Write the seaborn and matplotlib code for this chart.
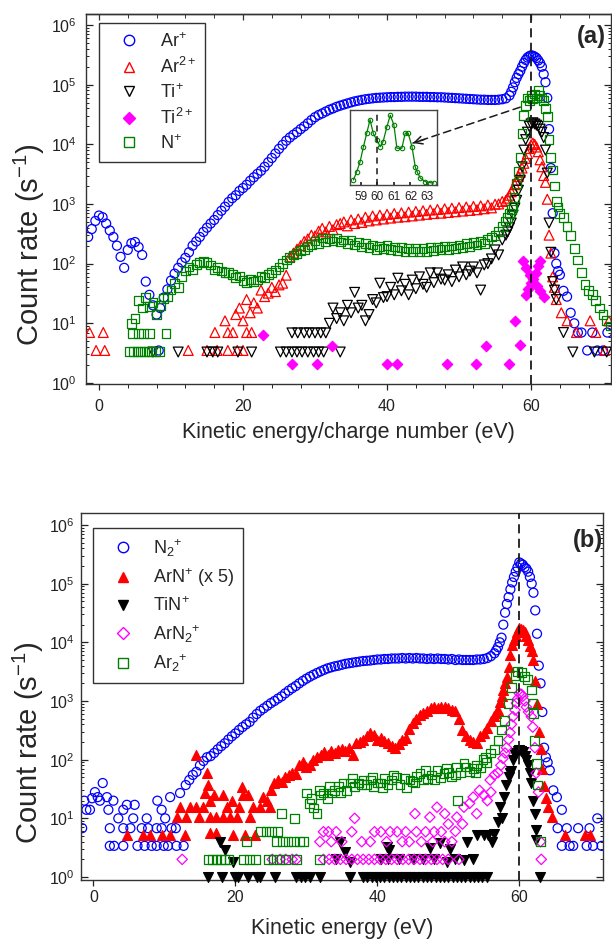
import numpy as np
import pandas as pd
import matplotlib
matplotlib.use("Agg")
import matplotlib.pyplot as plt
import seaborn as sns
from matplotlib.lines import Line2D
from matplotlib.ticker import MultipleLocator, LogLocator, NullFormatter, NullLocator

# ------------------------------------------------------------------ data
# Panel (a) -- energies in eV, count rates in s^-1
# Ar+ : dense segments (start, step, values)
ar1_main_start, ar1_main_step = -1.5, 0.5
ar1_main = [280, 380, 520, 640, 600, 470, 360, 280, 200, 130,
            85, 170, 220, 230, 190, 140, 50, 30, 20, 14,
            18, 27, 37, 52, 68, 85, 105, 125, 155, 200,
            235, 280, 340, 400, 470, 540, 650, 770, 900, 1080,
            1250, 1400, 1650, 1850, 2100, 2450, 2800, 3200, 3600, 4200,
            5000, 5900, 7000, 8400, 9800, 11500, 13000, 14500, 16000, 18000,
            20000, 22500, 25500, 28500, 31000, 33000, 35500, 38000, 40000, 42500,
            44500, 46500, 48500, 50500, 52500, 54000, 55500, 57000, 58000, 59000,
            60000, 60500, 61000, 61500, 62000, 62000, 62500, 62500, 63000, 63000,
            63000, 63000, 62500, 62500, 62500, 62000, 62000, 61500, 61500, 61000,
            60500, 60000, 59500, 59000, 58500, 58000, 57500, 57000, 56500, 56000,
            56000, 55500, 55500, 55500, 56000, 57000, 59000]
ar1_peak_start, ar1_peak_step = 57.0, 0.25
ar1_peak = [66000, 76000, 90000, 110000, 130000, 150000, 170000, 200000, 230000, 260000,
            285000, 300000, 310000, 305000, 295000, 280000, 255000, 230000, 200000, 150000,
            110000, 60000, 18000, 4000, 700, 150, 100, 75, 65]
ar1_tail_start, ar1_tail_step = 64.5, 0.5
ar1_tail = [35, 28, 15, 10, 7, 7]
ar1_pts_e = [8.3, 67.8, 68.5, 69.2, 70.0, 70.6]
ar1_pts = [3.5, 3.5, 7, 3.5, 3.5, 7]

# Ar2+
ar2_pts_e = [-1.3, -0.4, 0.6, 0.8, 12.4, 15.0, 16.1, 16.4, 17.5, 17.9, 17.9, 18.6,
             19.2, 20.0, 20.5, 21.2, 64.2, 65.0, 66.3, 68.2, 69.0, 70.2, 70.8]
ar2_pts = [7, 3.5, 7, 3.5, 3.5, 3.5, 7, 3.5, 11, 7, 3.5, 7,
           3.5, 3.5, 7, 7, 15, 11, 7, 11, 7, 3.5, 11]
ar2_main_start, ar2_main_step = 19.0, 0.5
ar2_main = [14, 18, 11, 25, 15, 22, 18, 36, 28, 32,
            40, 34, 44, 47, 64, 130, 150, 175, 200, 235,
            260, 300, 290, 350, 390, 340, 420, 370, 450, 470,
            500, 430, 540, 470, 560, 490, 600, 520, 630, 540,
            650, 560, 670, 580, 690, 600, 710, 610, 730, 630,
            750, 650, 770, 670, 790, 690, 810, 700, 830, 720,
            850, 740, 870, 760, 890, 780, 910, 800, 930, 830,
            960, 860, 990, 1000, 1100]
ar2_peak_start, ar2_peak_step = 56.5, 0.25
ar2_peak = [1150, 1250, 1400, 1600, 1800, 2100, 2500, 2900, 3400, 4000,
            4800, 5800, 7000, 8500, 9800, 10500, 10000, 9000, 7500, 5500,
            4200, 3000, 2300, 1200, 300, 150, 60, 40, 25]

# Ti+
ti1_pts_e = [7.5, 11.0, 15.0, 15.8, 16.5, 19.3, 21.2, 25.2, 26.0, 26.8, 27.5, 28.2,
             29.0, 29.8, 30.5, 31.2, 33.5, 26.8, 27.6, 28.5, 29.2, 30.0, 30.8, 31.5,
             64.5, 65.8, 68.8, 70.5]
ti1_pts = [3.3, 3.3, 3.3, 3.3, 3.3, 3.3, 3.3, 3.3, 3.3, 3.3, 3.3, 3.3,
           3.3, 3.3, 3.3, 3.3, 3.3, 6.9, 6.9, 6.9, 6.9, 6.9, 6.9, 6.9,
           7, 3.3, 3.3, 3.3]
ti1_main_start, ti1_main_step = 32.0, 0.5
ti1_main = [10, 18, 12, 15, 11, 20, 15, 33, 18, 20,
            11, 14, 25, 22, 47, 27, 28, 40, 30, 57,
            35, 45, 30, 53, 38, 60, 45, 40, 70, 48,
            70, 55, 53, 65, 50, 78, 60, 88, 65, 75,
            88, 70, 36, 95, 100, 120, 170, 140, 250, 300]
ti1_peak_start, ti1_peak_step = 56.75, 0.25
ti1_peak = [340, 400, 480, 650, 850, 1150, 1700, 2500, 4200, 8000,
            12000, 16000, 20000, 22000, 23000, 22000, 21000, 20000, 18000, 16000,
            13000, 8000, 3300, 480, 155, 50, 36, 25]

# Ti2+
ti2_e = [22.8, 26.8, 30.3, 32.4, 40.0, 41.4, 48.3, 52.4, 53.8, 57.0, 57.8, 58.5,
         58.9, 59.3, 59.8, 60.3, 60.8, 61.3, 61.8, 59.3, 59.6, 60.0, 60.7, 61.0, 61.3]
ti2 = [6.3, 2.1, 2.1, 4.2, 2.1, 2.1, 2.1, 2.1, 4.2, 2.1, 11, 4.3,
       110, 85, 65, 55, 42, 35, 28, 30, 38, 48, 70, 90, 110]

# N+
n1_pts_e = [4.2, 4.8, 5.3, 5.8, 6.3, 6.8, 7.3, 7.8, 8.4, 4.7, 5.5, 6.2, 7.0, 9.3]
n1_pts = [3.4, 3.4, 3.4, 3.4, 3.4, 3.4, 3.4, 3.4, 3.4, 6.8, 6.8, 6.8, 6.8, 6.8]
n1_main_start, n1_main_step = 4.5, 0.5
n1_main = [10, 12, 24, 18, 27, 19, 22, 14, 20, 26,
           28, 36, 47, 40, 60, 75, 88, 80, 98, 106,
           110, 106, 95, 78, 85, 75, 72, 70, 66, 58,
           62, 52, 49, 55, 50, 53, 60, 58, 66, 70,
           78, 88, 100, 115, 125, 140, 150, 165, 175, 195,
           210, 240, 220, 270, 230, 260, 240, 270, 230, 250,
           215, 250, 205, 230, 190, 215, 185, 205, 175, 195,
           180, 200, 170, 190, 165, 185, 160, 180, 158, 178,
           160, 182, 162, 185, 165, 188, 170, 192, 175, 198,
           180, 205, 188, 215, 195, 225, 205, 235, 220, 255,
           280, 300, 350, 420, 520]
n1_peak_start, n1_peak_step = 56.75, 0.25
n1_peak = [600, 700, 800, 900, 1300, 2200, 3500, 6000, 15000, 30000,
           45000, 60000, 55000, 65000, 58000, 70000, 60000, 80000, 65000, 60000,
           55000, 40000, 29000, 12000, 6100, 3700, 2000, 1100, 890, 700]
n1_tail_start, n1_tail_step = 64.5, 0.5
n1_tail = [600, 420, 300, 180, 115, 70, 45, 35, 30, 24, 18, 14, 11, 9]

# inset (N+ near the peak, linear scale)
inset_e = [58.56, 58.76, 58.96, 59.16, 59.36, 59.56, 59.75, 59.97, 60.17, 60.35, 60.58, 60.78,
           61.0, 61.18, 61.48, 61.68, 61.86, 62.09, 62.29, 62.39, 62.6, 62.9, 63.2, 63.4]
inset_rate = [4700, 12600, 21700, 35700, 48300, 61000, 48300, 42000, 35700, 40600, 54600, 65100,
              56000, 34300, 34300, 48300, 48300, 35700, 16800, 12600, 6300, 3100, 2100, 1900]

# Panel (b)
n2_pts_e = [-1.6, -1.3, -1.0, -0.5, -0.2, 0.2, 0.6, 0.9, 1.3, 1.9, 2.1, 2.3, 2.3, 2.8, 2.9,
            3.5, 4.2, 4.2, 4.2, 4.7, 5.2, 5.6, 5.8, 6.2, 6.8, 7.2, 7.5, 7.7, 8.2, 8.9, 8.9,
            9.0, 9.6, 9.6, 9.9, 10.1, 10.5, 10.8, 11.0, 11.6, 11.7, 12.2, 12.7,
            64.3, 64.8, 65.3, 65.4, 66.0, 66.0, 66.7, 67.1, 67.6, 68.3, 69.5, 69.9, 70.4, 71.0, 71.6]
n2_pts = [6.8, 20, 14, 14, 22, 28, 23, 20, 40, 23, 14, 6.8, 3.4, 20, 3.4,
          10, 14, 6.8, 3.4, 17, 6.8, 10, 17, 3.4, 6.8, 3.4, 10, 6.8, 3.4, 3.4, 6.8,
          20, 14, 6.8, 3.4, 10, 3.4, 23, 6.8, 6.8, 3.4, 27, 3.4,
          66, 30, 23, 6.8, 14, 3.4, 6.8, 3.4, 3.4, 6.8, 3.4, 6.8, 3.4, 10, 3.4]
n2_main_start, n2_main_step = 13.0, 0.5
n2_main = [37, 45, 55, 62, 80, 95, 110, 115, 130, 150,
           170, 190, 220, 250, 280, 320, 360, 400, 440, 520,
           600, 680, 750, 830, 920, 1000, 1100, 1200, 1350, 1500,
           1650, 1800, 2000, 2200, 2400, 2600, 2800, 3000, 3200, 3400,
           3600, 3750, 3900, 4000, 4150, 4300, 4400, 4500, 4600, 4700,
           4800, 4850, 4900, 5000, 5100, 5100, 5200, 5200, 5300, 5300,
           5300, 5400, 5300, 5400, 5300, 5400, 5300, 5300, 5200, 5300,
           5200, 5300, 5200, 5200, 5100, 5200, 5000, 5100, 5000, 5000,
           5000, 5000, 5100, 5100, 5200, 5400, 5800, 6500]
n2_peak_start, n2_peak_step = 56.75, 0.25
n2_peak = [7300, 8300, 10000, 12000, 20000, 32000, 45000, 59000, 80000, 105000,
           130000, 160000, 190000, 230000, 220000, 210000, 190000, 180000, 160000, 130000,
           100000, 70000, 35000, 14000, 4000, 2000, 650, 160, 110, 90]

# ArN+ (x 5)
arn_pts_e = [4.7, 7.0, 7.9, 9.6, 10.8, 11.7, 12.2, 12.9, 13.0, 13.6, 14.5, 14.5, 14.9, 15.5,
             15.7, 16.0, 16.1, 16.4, 16.4, 16.4, 17.0, 17.3, 17.3, 18.3, 18.3, 18.8, 19.2,
             19.5, 19.6, 20.2, 20.5, 20.9, 21.0, 21.3, 21.8, 22.0, 22.5, 22.7, 23.5, 23.9,
             24.4, 24.9, 64.6, 66.4, 69.2, 69.9]
arn_pts = [5.2, 5.2, 5.2, 5.2, 5.2, 10.5, 15.5, 5.2, 10.5, 15.5, 15.5, 120, 10.5, 15.5,
           27, 59, 37, 20, 10.5, 5.6, 25, 10.5, 5.6, 10.5, 25, 15.5, 10.5,
           20, 5.2, 10.5, 15.5, 34, 25, 5.2, 25, 10.5, 15.5, 5.2, 15.5, 23,
           20, 15.5, 10.5, 5.2, 5.2, 5.2]
arn_main_start, arn_main_step = 25.0, 0.5
arn_main = [30, 40, 45, 42, 50, 55, 60, 58, 80, 90,
            75, 82, 100, 110, 120, 135, 118, 140, 128, 145,
            150, 138, 160, 120, 190, 200, 220, 250, 280, 260,
            215, 230, 210, 190, 170, 160, 185, 220, 230, 330,
            420, 500, 580, 620, 680, 750, 790, 770, 800, 780,
            760, 700, 680, 500, 320, 250, 220, 200, 190, 250,
            280, 350, 450, 550]
arn_peak_start, arn_peak_step = 56.75, 0.25
arn_peak = [620, 700, 950, 1200, 1550, 2000, 2600, 3800, 6000, 9000,
            11000, 13000, 15000, 17500, 17000, 16000, 15000, 13000, 11000, 8500,
            7000, 5000, 2200, 900, 300, 150, 70, 35, 22, 15.5]

# TiN+
tin_e = [16.1, 18.1, 19.9, 20.3, 21.8, 23.0, 23.5, 25.6, 28.6, 29.2, 29.8, 30.5, 31.9, 36.1,
         38.0, 38.6, 39.2, 39.8, 40.4, 41.0, 41.6, 42.2, 42.8, 43.4, 44.0, 44.6, 45.2, 45.8,
         46.4, 47.0, 47.6, 48.2, 48.8, 49.4, 50.0, 50.6, 51.2, 51.8, 52.4, 53.0, 53.6, 54.2,
         54.8, 55.4, 62.9,
         19.6, 34.2, 36.1, 40.5, 41.5, 43.0, 45.0, 46.5, 48.0, 49.8, 51.0, 52.2, 53.5,
         17.8, 18.5, 34.7, 35.4, 41.3, 41.7, 47.4, 48.8, 50.2, 52.7, 54.1, 55.0, 55.6, 56.1, 56.5,
         57.0, 57.3, 57.6, 57.9, 58.2, 58.5, 58.7, 58.9, 59.1, 59.4, 59.6, 59.8, 60.0, 60.3,
         60.5, 60.8, 61.0, 61.3, 61.5, 61.7, 61.9, 62.2, 62.3, 62.4]
tin = [1.0, 1.0, 1.0, 1.0, 1.0, 1.0, 1.0, 1.0, 1.0, 1.0, 1.0, 1.0, 1.0, 1.0,
       1.0, 1.0, 1.0, 1.0, 1.0, 1.0, 1.0, 1.0, 1.0, 1.0, 1.0, 1.0, 1.0, 1.0,
       1.0, 1.0, 1.0, 1.0, 1.0, 1.0, 1.0, 1.0, 1.0, 1.0, 1.0, 1.0, 1.0, 1.0,
       1.0, 1.0, 1.0,
       1.8, 2.0, 1.8, 2.0, 2.0, 2.0, 2.0, 2.0, 2.0, 1.8, 2.0, 1.95, 2.0,
       4.0, 2.9, 4.0, 2.7, 3.2, 2.9, 3.1, 3.8, 3.0, 3.9, 5.2, 5.2, 5.2, 3.9, 5.5,
       8.7, 15.5, 10, 23, 37, 50, 59, 65, 100, 120, 130, 140, 145, 140,
       135, 115, 100, 80, 59, 40, 20, 12, 6.3, 4.3]

# ArN2+
arn2_e = [12.5, 25.2, 26.3, 27.1, 28.0, 28.6, 32.4, 33.2, 34.0, 34.8, 35.6, 36.4, 37.2, 38.0,
          38.8, 39.6, 40.4, 41.2, 42.0, 42.8, 43.6, 44.4, 45.2, 46.0, 46.8, 47.6, 48.4, 49.2,
          50.0, 51.5, 63.1,
          31.9, 33.5, 35.0, 37.8, 39.0, 41.3, 43.5, 44.5, 46.2, 47.8, 49.5, 50.5, 63.0,
          32.4, 33.1, 34.2, 36.4, 39.6, 40.5, 41.8, 42.8, 44.0, 45.5, 46.8, 48.0, 49.0,
          36.8, 45.3, 47.4, 48.4, 49.5, 50.0, 51.0, 51.2, 52.0, 52.2, 53.0, 53.5, 54.0, 54.4,
          55.0, 55.5, 55.9, 56.0, 56.5, 57.0, 57.4, 57.7, 58.0, 58.2, 58.5, 58.7, 58.9, 59.1,
          59.4, 59.6, 59.8, 60.0, 60.3, 60.5, 60.8, 61.0, 61.3, 61.7, 61.9, 62.2, 62.4, 62.7]
arn2 = [2.0, 2.0, 2.0, 2.0, 2.0, 2.0, 2.0, 2.0, 2.0, 2.0, 2.0, 2.0, 2.0, 2.0,
        2.0, 2.0, 2.0, 2.0, 2.0, 2.0, 2.0, 2.0, 2.0, 2.0, 2.0, 2.0, 2.0, 2.0,
        2.0, 2.0, 2.0,
        4.0, 4.0, 4.0, 4.0, 4.0, 4.0, 4.0, 4.0, 4.0, 4.0, 4.0, 4.0, 4.0,
        5.9, 5.9, 5.9, 5.9, 5.9, 5.9, 5.9, 5.9, 5.9, 5.9, 5.9, 5.9, 5.9,
        10, 12, 10.5, 15.5, 12, 8, 6, 10.5, 8, 15.5, 18, 23, 12, 30,
        25, 20, 45, 28, 55, 60, 80, 105, 130, 160, 220, 290, 400, 540,
        700, 920, 1100, 1350, 1300, 1200, 1000, 790, 650, 540, 360, 160, 59, 28]

# Ar2+ (panel b)
ar2b_e = [16.2, 16.8, 17.3, 17.9, 18.5, 19.1, 21.1, 22.0, 22.8, 24.6, 25.3, 26.2, 27.1, 28.6, 31.9,
          21.6, 25.8, 26.6, 27.4, 28.2, 29.0, 29.6,
          23.5, 24.3, 25.1, 25.9,
          26.5, 28.3, 30.0, 30.4, 31.0, 31.5, 32.0, 32.4, 33.0, 33.5, 34.0, 34.5, 35.2, 35.6,
          36.2, 36.8, 37.3, 38.0, 38.5, 39.0, 39.5, 40.0, 40.4, 41.0, 41.5, 42.0, 42.7, 43.2,
          44.1, 44.6, 45.0, 45.5, 46.0, 46.5, 47.1, 47.6, 48.4, 48.9, 49.4, 50.0, 50.5, 51.2,
          51.3, 51.7, 52.5, 53.0, 53.5, 54.0, 54.5, 54.9, 55.4, 55.9, 56.5, 57.0, 57.5, 57.9,
          58.4, 58.9, 59.4, 59.8, 60.3, 60.7, 61.2, 61.7, 61.9, 62.0, 62.2, 62.4, 62.6, 63.0,
          30.7, 31.8, 33.3, 34.8, 36.5, 37.8, 39.3, 40.7, 42.3, 43.8, 45.3, 46.8, 48.1, 49.7,
          51.0, 52.2, 53.8, 55.2]
ar2b = [2.0, 2.0, 2.0, 2.0, 2.0, 2.0, 2.0, 2.0, 2.0, 2.0, 2.0, 2.0, 2.0, 2.0, 2.0,
        4.0, 4.0, 4.0, 4.0, 4.0, 4.0, 4.0,
        5.9, 5.9, 5.9, 5.9,
        12, 10, 27, 18, 15, 12, 25, 27, 22, 27, 30, 35, 40, 30,
        40, 35, 40, 45, 38, 45, 35, 40, 40, 48, 38, 45, 50, 38,
        34, 45, 42, 52, 59, 45, 48, 55, 66, 50, 58, 60, 52, 75,
        20, 60, 75, 62, 70, 80, 72, 100, 90, 130, 150, 215, 320, 470,
        920, 1700, 2750, 3150, 3100, 2600, 2300, 1540, 920, 620, 215, 87, 37, 4,
        22, 30, 35, 28, 48, 38, 50, 34, 55, 48, 40, 65, 45, 70,
        55, 85, 60, 110]

# ------------------------------------------------------------------ helpers
def series(segments, pts_e=None, pts=None):
    es, rs = [], []
    for start, step, vals in segments:
        es.append(start + step * np.arange(len(vals)))
        rs.append(np.asarray(vals, float))
    if pts_e is not None:
        es.append(np.asarray(pts_e, float))
        rs.append(np.asarray(pts, float))
    return pd.DataFrame({"energy": np.concatenate(es), "rate": np.concatenate(rs)})


def draw(ax, df, marker, color, filled=False, s=40, z=2, clip=True):
    sns.scatterplot(data=df, x="energy", y="rate", ax=ax, marker=marker, s=s,
                    color=color, facecolor=color if filled else "none",
                    edgecolor=color, linewidth=0.9, zorder=z, legend=False,
                    clip_on=clip)


BLUE, RED, GREEN, MAG, BLK = "#0000ff", "#ff0000", "#008000", "#ff00ff", "#000000"

sns.set_theme(style="ticks")
plt.rcParams["font.family"] = ["Liberation Sans", "DejaVu Sans"]
plt.rcParams["mathtext.fontset"] = "custom"
plt.rcParams["mathtext.rm"] = "Liberation Sans"
plt.rcParams["mathtext.it"] = "Liberation Sans:italic"
plt.rcParams["mathtext.bf"] = "Liberation Sans:bold"
plt.rcParams["axes.edgecolor"] = "#333333"
plt.rcParams["axes.linewidth"] = 1.0

W, H = 612, 940
fig = plt.figure(figsize=(W / 100, H / 100), dpi=100)


def px_axes(l, t, r, b):
    return fig.add_axes([l / W, 1 - b / H, (r - l) / W, (b - t) / H])


def style_log_axes(ax, ylim, xlim):
    ax.set_yscale("log")
    ax.set_ylim(*ylim)
    ax.set_xlim(*xlim)
    ax.yaxis.set_major_locator(LogLocator(base=10, numticks=12))
    ax.yaxis.set_minor_locator(LogLocator(base=10, subs=np.arange(2, 10), numticks=12))
    ax.yaxis.set_minor_formatter(NullFormatter())
    ax.set_xticks([0, 20, 40, 60])
    ax.tick_params(axis="y", which="both", direction="in", left=True, right=True,
                   labelsize=11.5, colors="#222222")
    ax.tick_params(axis="y", which="major", length=5, width=0.9)
    ax.tick_params(axis="y", which="minor", length=2.5, width=0.7)
    ax.tick_params(axis="x", which="both", direction="out", labelsize=11.5,
                   colors="#222222", top=False)
    ax.tick_params(axis="x", which="major", length=4.5, width=0.9)
    ax.tick_params(axis="x", which="minor", length=3, width=0.7)
    for sp in ax.spines.values():
        sp.set_visible(True)
        sp.set_color("#333333")
    ax.set_xlabel("")
    ax.set_ylabel("")


# ------------------------------------------------------------------ panel (a)
axa = px_axes(86, 14, 611, 384)
draw(axa, series([(ar1_main_start, ar1_main_step, ar1_main),
                  (ar1_peak_start, ar1_peak_step, ar1_peak),
                  (ar1_tail_start, ar1_tail_step, ar1_tail)], ar1_pts_e, ar1_pts),
     "o", BLUE, s=42, z=2)
draw(axa, series([(ar2_main_start, ar2_main_step, ar2_main),
                  (ar2_peak_start, ar2_peak_step, ar2_peak)], ar2_pts_e, ar2_pts),
     "^", RED, s=50, z=3)
draw(axa, series([(ti1_main_start, ti1_main_step, ti1_main),
                  (ti1_peak_start, ti1_peak_step, ti1_peak)], ti1_pts_e, ti1_pts),
     "v", BLK, s=50, z=4)
draw(axa, pd.DataFrame({"energy": ti2_e, "rate": ti2}), "D", MAG, filled=True, s=28, z=5)
draw(axa, series([(n1_main_start, n1_main_step, n1_main),
                  (n1_peak_start, n1_peak_step, n1_peak),
                  (n1_tail_start, n1_tail_step, n1_tail)], n1_pts_e, n1_pts),
     "s", GREEN, s=40, z=6)
style_log_axes(axa, (0.96, 1.53e6), (-1.8, 71.1))
axa.xaxis.set_minor_locator(MultipleLocator(4))
axa.tick_params(axis="x", which="major", pad=6)
axa.tick_params(axis="y", which="major", pad=6.5)
top = axa.secondary_xaxis("top")
top.set_xticks([0, 20, 40, 60])
top.xaxis.set_minor_locator(MultipleLocator(4))
top.tick_params(which="both", direction="in", labeltop=False, colors="#333333")
top.tick_params(which="major", length=4.5, width=0.9)
top.tick_params(which="minor", length=3, width=0.7)
top.spines["top"].set_color("#333333")

axa.axvline(60, color="k", ls=(0, (5, 3)), lw=1.3, zorder=10)
axa.set_xlabel("Kinetic energy/charge number (eV)", fontsize=15.5)
axa.xaxis.set_label_coords(0.5, -0.132)
axa.xaxis.label.set_va("center")
axa.set_ylabel("Count rate (s$^{-1}$)", fontsize=21)
axa.yaxis.set_label_coords(-0.107, 0.376)
axa.yaxis.label.set_va("center")
axa.text(0.962, 0.938, "(a)", transform=axa.transAxes, fontsize=17,
         fontweight="bold", ha="center", va="center")

# arrow from the peak to the inset
axa.annotate("", xy=(43.6, 1.05e4), xytext=(58.5, 4.2e4),
             arrowprops=dict(arrowstyle="-", ls=(0, (5, 3)), color="k", lw=1.1,
                             shrinkA=0, shrinkB=0), zorder=11)
axa.annotate("", xy=(43.6, 1.05e4), xytext=(45.2, 1.21e4),
             arrowprops=dict(arrowstyle="->", color="k", lw=1.1, mutation_scale=14,
                             shrinkA=0, shrinkB=0), zorder=11)

leg_a = [("o", BLUE, False, "Ar$^{+}$"), ("^", RED, False, "Ar$^{2+}$"),
         ("v", BLK, False, "Ti$^{+}$"), ("D", MAG, True, "Ti$^{2+}$"),
         ("s", GREEN, False, "N$^{+}$")]
handles = [Line2D([], [], ls="none", marker=m, ms=7.5 if m != "D" else 6.5,
                  mfc=c if f else "none", mec=c, mew=1.0, label=l)
           for m, c, f, l in leg_a]
lg = axa.legend(handles=handles, loc="upper left", bbox_to_anchor=(0.025, 0.976),
                fontsize=13, frameon=True, fancybox=False, framealpha=1,
                edgecolor="#333333", borderpad=0.5, handlelength=2.3,
                handletextpad=0.55, labelspacing=0.34, borderaxespad=0)
lg.get_frame().set_linewidth(1.0)

# inset
ins = px_axes(350, 110, 437, 185)
sns.lineplot(x=inset_e, y=inset_rate, ax=ins, color=GREEN, lw=0.9, marker="o",
             markersize=3.2, mfc="none", mec=GREEN, mew=0.8)
ins.axvline(60, color="k", ls=(0, (4, 3)), lw=1.1)
ins.set_xlim(58.35, 63.6)
ins.set_ylim(0, 7.0e4)
ins.set_xticks([59, 60, 61, 62, 63])
ins.yaxis.set_major_locator(NullLocator())
ins.tick_params(axis="x", direction="in", length=2, labelsize=8.5, pad=4.5,
                colors="#222222")
ins.patch.set_alpha(0)
for sp in ins.spines.values():
    sp.set_visible(True)
    sp.set_color("#444444")
    sp.set_linewidth(1.0)

# ------------------------------------------------------------------ panel (b)
axb = px_axes(81, 513, 603, 880)
draw(axb, series([(n2_main_start, n2_main_step, n2_main),
                  (n2_peak_start, n2_peak_step, n2_peak)], n2_pts_e, n2_pts),
     "o", BLUE, s=42, z=2)
draw(axb, series([(arn_main_start, arn_main_step, arn_main),
                  (arn_peak_start, arn_peak_step, arn_peak)], arn_pts_e, arn_pts),
     "^", RED, filled=True, s=50, z=3)
draw(axb, pd.DataFrame({"energy": tin_e, "rate": tin}), "v", BLK, filled=True,
     s=50, z=4, clip=False)
draw(axb, pd.DataFrame({"energy": arn2_e, "rate": arn2}), "D", MAG, s=28, z=5)
draw(axb, pd.DataFrame({"energy": ar2b_e, "rate": ar2b}), "s", GREEN, s=40, z=6)
style_log_axes(axb, (0.89, 1.6e6), (-1.76, 71.8))
axb.xaxis.set_minor_locator(NullLocator())
axb.tick_params(axis="x", which="major", pad=3)
axb.tick_params(axis="y", which="major", pad=4.5)
axb.axvline(60, color="k", ls=(0, (5, 3)), lw=1.3, zorder=10)
axb.set_xlabel("Kinetic energy (eV)", fontsize=15.5)
axb.xaxis.set_label_coords(0.5, -0.131)
axb.xaxis.label.set_va("center")
axb.set_ylabel("Count rate (s$^{-1}$)", fontsize=21)
axb.yaxis.set_label_coords(-0.100, 0.373)
axb.yaxis.label.set_va("center")
axb.text(0.971, 0.926, "(b)", transform=axb.transAxes, fontsize=17,
         fontweight="bold", ha="center", va="center")

leg_b = [("o", BLUE, False, "N$_{2}$$^{+}$"), ("^", RED, True, "ArN$^{+}$ (x 5)"),
         ("v", BLK, True, "TiN$^{+}$"), ("D", MAG, False, "ArN$_{2}$$^{+}$"),
         ("s", GREEN, False, "Ar$_{2}$$^{+}$")]
handles = [Line2D([], [], ls="none", marker=m, ms=7.5 if m != "D" else 6.5,
                  mfc=c if f else "none", mec=c, mew=1.0, label=l)
           for m, c, f, l in leg_b]
lg = axb.legend(handles=handles, loc="upper left", bbox_to_anchor=(0.023, 0.959),
                fontsize=13, frameon=True, fancybox=False, framealpha=1,
                edgecolor="#333333", borderpad=0.5, handlelength=2.3,
                handletextpad=0.5, labelspacing=0.42, borderaxespad=0)
lg.get_frame().set_linewidth(1.0)

fig.savefig("out.png", dpi=100)
